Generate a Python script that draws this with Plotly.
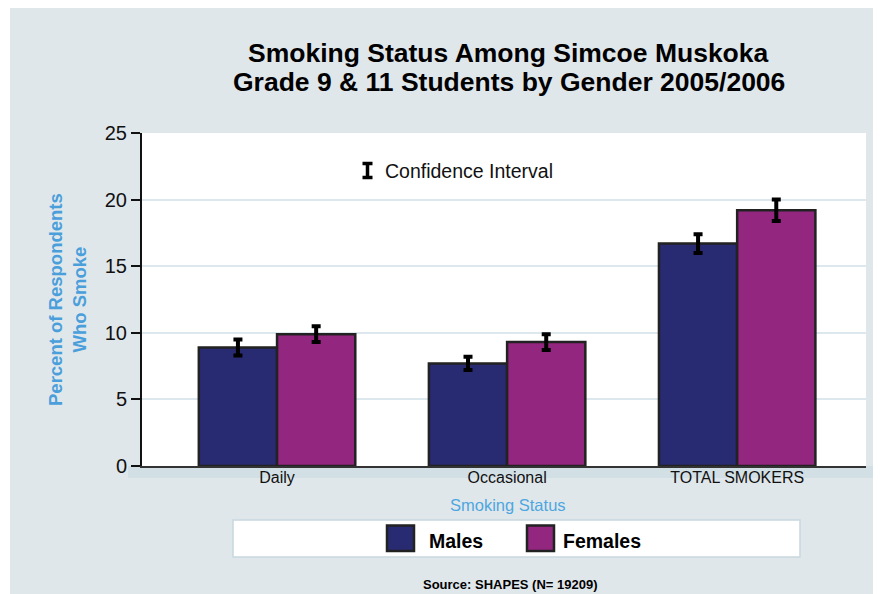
import plotly.graph_objects as go

categories = ["Daily", "Occasional", "TOTAL SMOKERS"]
series_names = ["Males", "Females"]
males = [8.9, 7.7, 16.7]
females = [9.9, 9.3, 19.2]
males_ci = [0.6, 0.5, 0.7]
females_ci = [0.6, 0.6, 0.8]
y_ticks = [0, 5, 10, 15, 20, 25]

# page body has an 8px margin; figure is sized so that it fills the window
OFF = 8
W, H = 881 - OFF, 594 - OFF
# plot area in screen pixels
SX0, SX1, SY0, SY1 = 142, 866, 133, 466
L, R, T, B = SX0 - OFF, W - (SX1 - OFF), SY0 - OFF, H - (SY1 - OFF)
PW, PH = SX1 - SX0, SY1 - SY0


def px(x):
    return (x - SX0) / PW


def py(y):
    return (SY1 - y) / PH


FONT = "Liberation Sans, Arial, Helvetica, sans-serif"
BORDER = "#222222"
COLORS = ["#282a72", "#93267f"]

fig = go.Figure()
for name, vals, ci, col in zip(series_names, [males, females], [males_ci, females_ci], COLORS):
    fig.add_trace(go.Bar(
        name=name, x=categories, y=vals, showlegend=False,
        marker=dict(color=col, line=dict(color=BORDER, width=2.5)),
        error_y=dict(type="data", array=ci, color="black", thickness=4, width=4.5),
    ))

shapes = [
    dict(type="rect", xref="paper", yref="paper", x0=px(10), x1=px(900), y0=py(8), y1=py(620),
         fillcolor="#e0e7eb", line=dict(width=0), layer="below"),
    # soft shadow band under the plot area / x axis
    dict(type="rect", xref="paper", yref="paper", x0=px(128), x1=px(881), y0=py(466), y1=py(478),
         fillcolor="#d2dfe5", line=dict(width=0), layer="below"),
    dict(type="rect", xref="paper", yref="paper", x0=0, x1=1, y0=0, y1=1,
         fillcolor="white", line=dict(width=0), layer="below"),
    dict(type="rect", xref="paper", yref="paper", x0=px(233), x1=px(800), y0=py(520), y1=py(557),
         fillcolor="white", line=dict(color="#c9d8e0", width=1.5), layer="below"),
    # confidence interval icon
    dict(type="line", xref="paper", yref="paper", x0=px(367.5), x1=px(367.5), y0=py(163), y1=py(178),
         line=dict(color="black", width=3.5)),
    dict(type="line", xref="paper", yref="paper", x0=px(362.5), x1=px(372.5), y0=py(163.5), y1=py(163.5),
         line=dict(color="black", width=3.5)),
    dict(type="line", xref="paper", yref="paper", x0=px(362.5), x1=px(372.5), y0=py(177.5), y1=py(177.5),
         line=dict(color="black", width=3.5)),
]

# custom legend swatches (to match the large square keys)
leg_swatch_x = [(387, 414), (527, 554)]
leg_label_x = [427, 561]
annotations = []
for (x0, x1), lx, col, name in zip(leg_swatch_x, leg_label_x, COLORS, series_names):
    shapes.append(dict(type="rect", xref="paper", yref="paper", x0=px(x0), x1=px(x1),
                       y0=py(525.5), y1=py(551), fillcolor=col, line=dict(color=BORDER, width=2.5)))
    annotations.append(dict(text=f"<b>{name}</b>", xref="paper", yref="paper", x=px(lx), y=py(541),
                            xanchor="left", yanchor="middle", showarrow=False,
                            font=dict(family=FONT, size=19.5, color="black")))

annotations += [
    dict(text="<b>Smoking Status Among Simcoe Muskoka</b>", xref="paper", yref="paper",
         x=px(508.5), y=py(53), xanchor="center", yanchor="middle", showarrow=False,
         font=dict(family=FONT, size=26.5, color="black")),
    dict(text="<b>Grade 9 & 11 Students by Gender 2005/2006</b>", xref="paper", yref="paper",
         x=px(508.5), y=py(82), xanchor="center", yanchor="middle", showarrow=False,
         font=dict(family=FONT, size=26.5, color="black")),
    dict(text="Confidence Interval", xref="paper", yref="paper", x=px(383), y=py(171),
         xanchor="left", yanchor="middle", showarrow=False,
         font=dict(family=FONT, size=19.5, color="#111111")),
    dict(text="<b>Percent of Respondents<br>Who Smoke</b>", xref="paper", yref="paper",
         x=px(67), y=py(300), xanchor="center", yanchor="middle", textangle=-90, showarrow=False,
         font=dict(family=FONT, size=18.5, color="#4a9fdb")),
    dict(text="Smoking Status", xref="paper", yref="paper", x=px(508), y=py(505),
         xanchor="center", yanchor="middle", showarrow=False,
         font=dict(family=FONT, size=16.5, color="#4ea6e0")),
    dict(text="<b>Source: SHAPES (N= 19209)</b>", xref="paper", yref="paper", x=px(510), y=py(584),
         xanchor="center", yanchor="middle", showarrow=False,
         font=dict(family=FONT, size=13, color="black")),
]

fig.update_layout(
    width=W, height=H,
    margin=dict(l=L, r=R, t=T, b=B, pad=0),
    paper_bgcolor="white",
    plot_bgcolor="rgba(0,0,0,0)",
    barmode="group", bargap=0.32, bargroupgap=0,
    font=dict(family=FONT, color="black"),
    xaxis=dict(range=[-0.587, 2.56], showline=True, linecolor="#333333", linewidth=2,
               ticks="", ticklabelstandoff=-4, tickfont=dict(size=16, color="#111111"),
               showgrid=False, fixedrange=True),
    yaxis=dict(range=[0, 25], tickvals=y_ticks, showline=True, linecolor="#111111", linewidth=2,
               ticks="outside", ticklen=9, tickwidth=2, tickcolor="#111111",
               tickfont=dict(size=20, color="#111111"), gridcolor="#dce8ee", gridwidth=1.5,
               zeroline=False),
    shapes=shapes,
    annotations=annotations,
    showlegend=False,
)

fig.write_html("out.html")
